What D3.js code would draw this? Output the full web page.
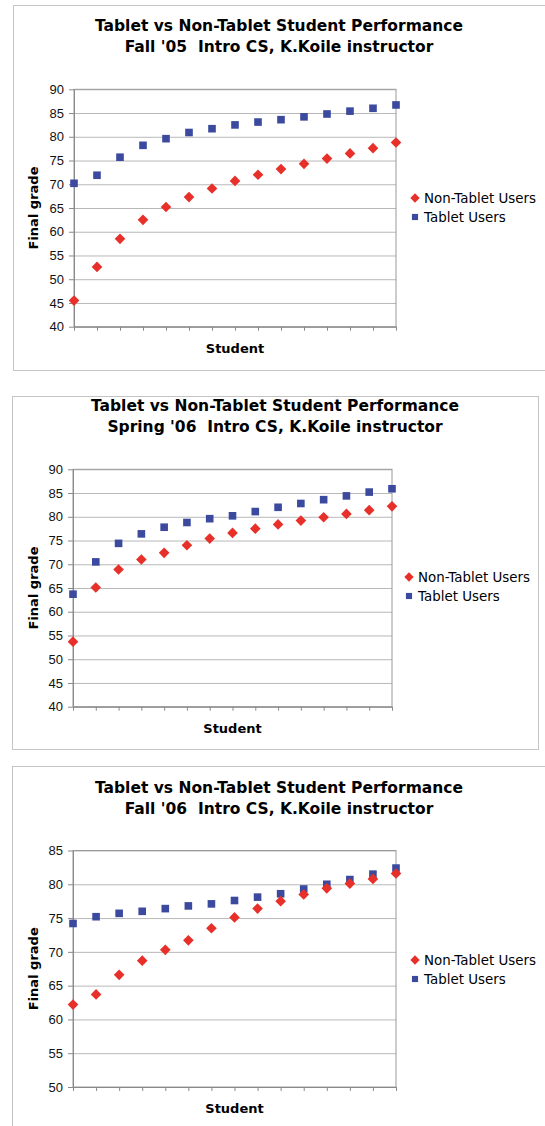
<!DOCTYPE html>
<html>
<head>
<meta charset="utf-8">
<script src="https://cdn.jsdelivr.net/npm/d3@7"></script>
<style>
  body { margin: 0; background: #fff; }
  svg { display: block; font-family: "DejaVu Sans", Verdana, sans-serif; }
  .grid line { stroke: #b8b8b8; }
  .grid .domain { display: none; }
  .axis path, .axis line { stroke: #8a8a8a; }
  .axis text { fill: #111; font-size: 13px; }
</style>
</head>
<body>
<div id="chart"></div>
<script>
// student index (sorted within each group)
var students = [1, 2, 3, 4, 5, 6, 7, 8, 9, 10, 11, 12, 13, 14, 15];

// Fall '05
var fall05Tablet    = [70.2, 71.9, 75.7, 78.2, 79.6, 80.9, 81.7, 82.5, 83.1, 83.6, 84.2, 84.8, 85.4, 86.0, 86.7];
var fall05NonTablet = [45.5, 52.6, 58.5, 62.5, 65.2, 67.3, 69.1, 70.7, 72.0, 73.2, 74.3, 75.4, 76.5, 77.6, 78.8];
// Spring '06
var spring06Tablet    = [63.7, 70.5, 74.4, 76.4, 77.8, 78.8, 79.6, 80.2, 81.1, 82.0, 82.8, 83.6, 84.4, 85.2, 85.9];
var spring06NonTablet = [53.7, 65.1, 68.9, 71.0, 72.4, 74.0, 75.4, 76.6, 77.5, 78.4, 79.2, 79.9, 80.6, 81.4, 82.2];
// Fall '06
var fall06Tablet    = [74.2, 75.2, 75.7, 76.0, 76.4, 76.8, 77.1, 77.6, 78.1, 78.6, 79.3, 80.0, 80.7, 81.5, 82.4];
var fall06NonTablet = [62.2, 63.7, 66.6, 68.7, 70.3, 71.7, 73.5, 75.1, 76.4, 77.5, 78.5, 79.4, 80.1, 80.8, 81.6];

var ticks90 = [40, 45, 50, 55, 60, 65, 70, 75, 80, 85, 90];
var ticks85 = [50, 55, 60, 65, 70, 75, 80, 85];

var seriesNames = ["Non-Tablet Users", "Tablet Users"];
var titleLine1 = "Tablet vs Non-Tablet Student Performance";
var subTitles = ["Fall '05  Intro CS, K.Koile instructor",
                 "Spring '06  Intro CS, K.Koile instructor",
                 "Fall '06  Intro CS, K.Koile instructor"];

var red = "#e8302a", blue = "#3b4a9e";

var svg = d3.select("#chart").append("svg")
    .attr("width", 545)
    .attr("height", 1126);

// panel layout
var panels = [
  { box: [13, 5, 534, 365], cx: 279, t1: 31, left: 74, right: 396, top: 89.3, bottom: 326.7,
    ticks: ticks90, tab: fall05Tablet, non: fall05NonTablet, sub: subTitles[0], legX: 415, legY: 198 },
  { box: [12, 396, 526, 353], cx: 275, t1: 411, left: 73, right: 392, top: 469.3, bottom: 706.7,
    ticks: ticks90, tab: spring06Tablet, non: spring06NonTablet, sub: subTitles[1], legX: 409, legY: 577 },
  { box: [12, 766, 535, 400], cx: 279, t1: 793, left: 73, right: 396, top: 850.5, bottom: 1087,
    ticks: ticks85, tab: fall06Tablet, non: fall06NonTablet, sub: subTitles[2], legX: 415, legY: 960 }
];

panels.forEach(function(p) {
  var g = svg.append("g");

  g.append("rect")
    .attr("x", p.box[0] + 0.5).attr("y", p.box[1] + 0.5)
    .attr("width", p.box[2]).attr("height", p.box[3])
    .attr("fill", "#fff").attr("stroke", "#c4c4c4");

  g.append("text")
    .attr("x", p.cx).attr("y", p.t1)
    .attr("text-anchor", "middle")
    .style("font-weight", "bold").style("font-size", "15.5px")
    .text(titleLine1);
  g.append("text")
    .attr("x", p.cx).attr("y", p.t1 + 21)
    .attr("text-anchor", "middle")
    .style("font-weight", "bold").style("font-size", "15.5px")
    .style("white-space", "pre")
    .text(p.sub);

  var x = d3.scalePoint()
    .domain(students)
    .range([p.left, p.right]);

  var y = d3.scaleLinear()
    .domain([p.ticks[0], p.ticks[p.ticks.length - 1]])
    .range([p.bottom, p.top]);

  // gridlines
  g.append("g")
    .attr("class", "grid")
    .attr("transform", "translate(" + p.left + ",0)")
    .call(d3.axisLeft(y).tickValues(p.ticks).tickSize(-(p.right - p.left)).tickFormat(""));

  // plot frame
  g.append("rect")
    .attr("x", p.left).attr("y", p.top)
    .attr("width", p.right - p.left).attr("height", p.bottom - p.top)
    .attr("fill", "none").attr("stroke", "#9a9a9a");

  g.append("g")
    .attr("class", "axis")
    .attr("transform", "translate(" + p.left + ",0)")
    .call(d3.axisLeft(y).tickValues(p.ticks).tickSize(5).tickSizeOuter(0).tickPadding(5));

  g.append("g")
    .attr("class", "axis")
    .attr("transform", "translate(0," + p.bottom + ")")
    .call(d3.axisBottom(x).tickSize(4).tickSizeOuter(0).tickFormat(""));

  g.append("text")
    .attr("transform", "translate(" + 38 + "," + ((p.top + p.bottom) / 2) + ") rotate(-90)")
    .attr("text-anchor", "middle")
    .style("font-weight", "bold").style("font-size", "13px")
    .text("Final grade");

  g.append("text")
    .attr("x", (p.left + p.right) / 2).attr("y", p.bottom + 26)
    .attr("text-anchor", "middle")
    .style("font-weight", "bold").style("font-size", "13px")
    .text("Student");

  var diamond = d3.symbol().type(d3.symbolDiamond2).size(72);
  var square = d3.symbol().type(d3.symbolSquare).size(58);

  g.selectAll(".tab")
    .data(p.tab)
    .join("path")
    .attr("class", "tab")
    .attr("transform", function(d, i) { return "translate(" + x(students[i]) + "," + y(d) + ")"; })
    .attr("d", square)
    .attr("fill", blue);

  g.selectAll(".non")
    .data(p.non)
    .join("path")
    .attr("class", "non")
    .attr("transform", function(d, i) { return "translate(" + x(students[i]) + "," + y(d) + ")"; })
    .attr("d", diamond)
    .attr("fill", red);

  // legend
  var leg = g.append("g").attr("transform", "translate(" + p.legX + "," + p.legY + ")");
  leg.append("path").attr("d", d3.symbol().type(d3.symbolDiamond2).size(56)).attr("fill", red);
  leg.append("path").attr("transform", "translate(0,19)")
    .attr("d", d3.symbol().type(d3.symbolSquare).size(38)).attr("fill", blue);
  leg.selectAll(".lt")
    .data(seriesNames)
    .join("text")
    .attr("x", 9).attr("y", function(d, i) { return i * 19 + 5; })
    .style("font-size", "13.4px")
    .text(function(d) { return d; });
});
</script>
</body>
</html>
